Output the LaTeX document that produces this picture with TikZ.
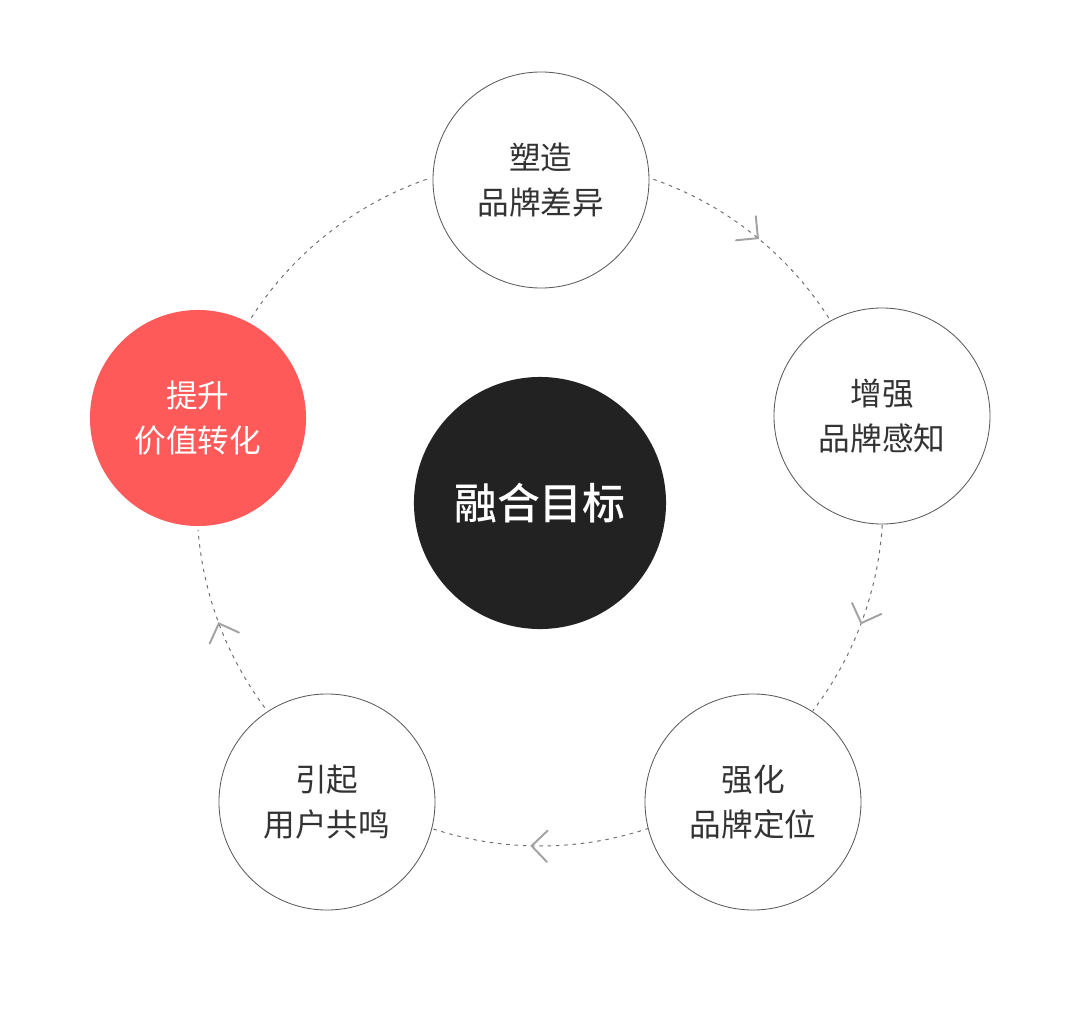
\documentclass[tikz,border=0pt]{standalone}
\usepackage{fontspec}
\setmainfont{Noto Sans CJK SC}[BoldFont={Noto Sans CJK SC Medium}]
\usepackage{tikz}
\usetikzlibrary{calc,decorations.markings}
\definecolor{inkdark}{HTML}{222222}
\definecolor{textgray}{HTML}{333333}
\definecolor{rimgray}{HTML}{5A5A5A}
\definecolor{ringgray}{HTML}{707070}
\definecolor{chevgray}{HTML}{A3A3A3}
\definecolor{coral}{HTML}{FF5A5A}
\tikzset{
  % cirklar
  hub/.style={circle,fill=inkdark,text=white,inner sep=0pt,minimum size=6.3cm,
              font=\fontsize{30.5}{36}\selectfont\bfseries},
  bub/.style={circle,draw=rimgray,fill=white,line width=0.6pt,inner sep=0pt,
              minimum size=5.4cm,align=center,text=textgray,
              font=\fontsize{22.5}{32.5}\selectfont},
  bubred/.style={bub,draw=none,fill=coral,text=white},
  % ring
  ring/.style={draw=ringgray,line width=0.7pt,dash pattern=on 2.5pt off 3.4pt},
  chev/.style={draw=chevgray,line width=1.4pt,solid,line cap=round},
  flow/.style={postaction={decorate},decoration={markings,
     mark=at position 0.5 with {\draw[chev] (-0.39cm,0.39cm) -- (0,0) -- (-0.39cm,-0.39cm);}}},
}

\begin{document}
\begin{tikzpicture}[x=0.025cm,y=0.025cm]
\useasboundingbox (-540,-505) rectangle (540,503);
  \node[hub] (goal) at (0,0) {融合目标};
  \draw[ring,flow] ([shift={(70.7:343)}]goal.center) arc[start angle=70.7,end angle=30.4,radius=343];
  \draw[ring,flow] ([shift={(-3.7:343)}]goal.center) arc[start angle=-3.7,end angle=-37.3,radius=343];
  \draw[ring,flow] ([shift={(-71.5:343)}]goal.center) arc[start angle=-71.5,end angle=-111.3,radius=343];
  \draw[ring,flow] ([shift={(-143.4:343)}]goal.center) arc[start angle=-143.4,end angle=-175.5,radius=343];
  \draw[ring] ([shift={(147.3:343)}]goal.center) arc[start angle=147.3,end angle=109.2,radius=343];
  \node[bub] (diff) at (1,323) {塑造\\品牌差异};
  \node[bub] (perc) at (342,87) {增强\\品牌感知};
  \node[bub] (pos) at (213,-299) {强化\\品牌定位};
  \node[bub] (echo) at (-213,-299) {引起\\用户共鸣};
  \node[bubred] (conv) at (-342,85) {提升\\价值转化};
\end{tikzpicture}
\end{document}
